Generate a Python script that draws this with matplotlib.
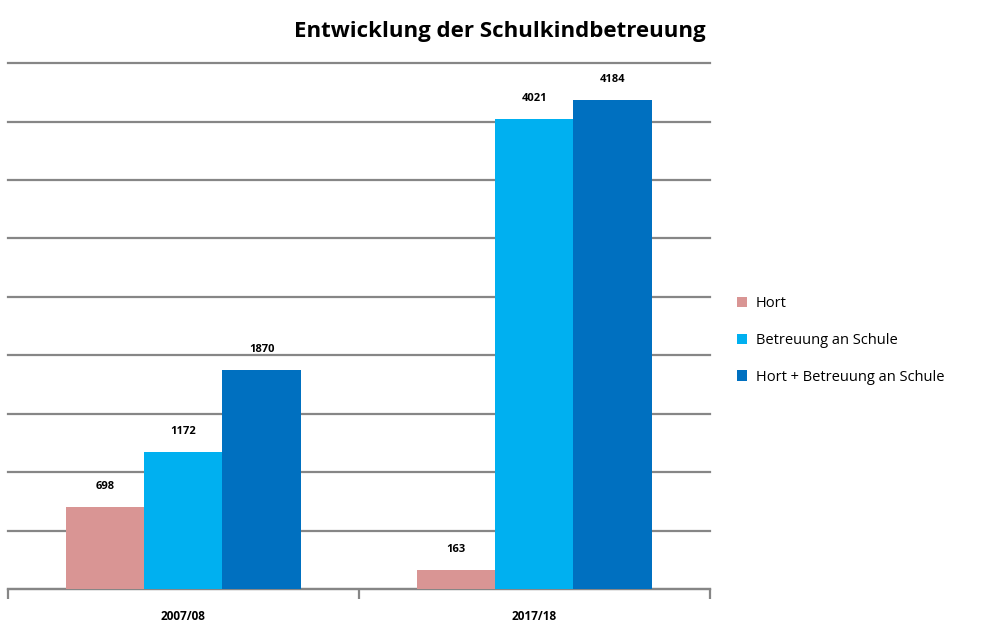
import numpy as np
import matplotlib
matplotlib.use("Agg")
import matplotlib.pyplot as plt
from matplotlib.ticker import MultipleLocator, NullFormatter

categories = ["2007/08", "2017/18"]
series_names = ["Hort", "Betreuung an Schule", "Hort + Betreuung an Schule"]
hort = [698, 163]
betreuung = [1172, 4021]
hort_betreuung = [1870, 4184]
colors = ["#D99594", "#00B0F0", "#0070C0"]

plt.rcParams["font.family"] = ["Open Sans", "DejaVu Sans"]

fig = plt.figure(figsize=(9.98, 6.25), dpi=100)
ax = fig.add_axes([0.008, 0.0576, 0.703, 0.8414])

x = np.arange(len(categories))
w = 0.223
for i, (vals, name, c) in enumerate(zip([hort, betreuung, hort_betreuung], series_names, colors)):
    bars = ax.bar(x + (i - 1) * w, vals, w, color=c, label=name, zorder=3)
    for b, v in zip(bars, vals):
        ax.annotate(str(v), (b.get_x() + b.get_width() / 2, v), xytext=(0, 11),
                    textcoords="offset points", ha="center", va="bottom",
                    fontsize=8, fontweight="bold")

ax.set_xlim(-0.5, 1.5)
ax.set_ylim(0, 4500)
ax.yaxis.set_major_locator(MultipleLocator(500))
ax.grid(axis="y", color="#868686", linewidth=1.6, zorder=0)
for gl in ax.get_ygridlines():
    gl.set_clip_on(False)
ax.tick_params(axis="y", left=False, labelleft=False)
for s in ["left", "right", "top"]:
    ax.spines[s].set_visible(False)
ax.spines["bottom"].set_color("#868686")
ax.spines["bottom"].set_linewidth(1.6)

# ticks at category borders, labels at centers
ax.set_xticks([-0.5, 0.5, 1.5])
ax.xaxis.set_major_formatter(NullFormatter())
ax.set_xticks(x, minor=True)
ax.set_xticklabels(categories, minor=True, fontsize=8.5, fontweight="bold")
ax.tick_params(axis="x", which="major", length=7, width=1.6, color="#868686", direction="out")
ax.tick_params(axis="x", which="minor", length=0, pad=15)

fig.text(0.501, 0.95, "Entwicklung der Schulkindbetreuung", ha="center", va="center",
         fontsize=16, fontweight="bold")

ax.legend(loc="center left", bbox_to_anchor=(1.02, 0.473), frameon=False, fontsize=10.5,
          handlelength=0.7, handleheight=0.7, handletextpad=0.6, labelspacing=1.5)

fig.savefig("out.png", dpi=100)
